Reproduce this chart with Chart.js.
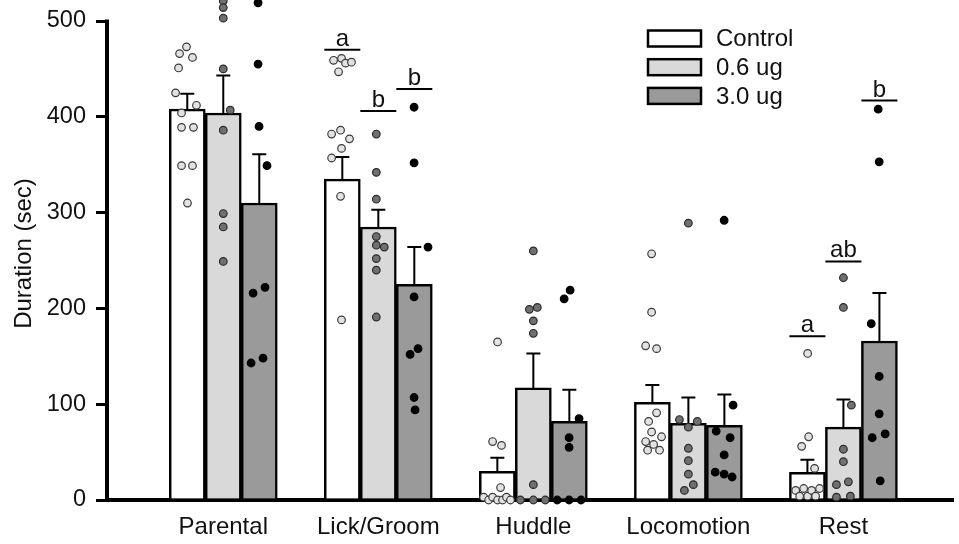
<!DOCTYPE html>
<html>
<head>
<meta charset="utf-8">
<script src="https://cdn.jsdelivr.net/npm/chart.js@4"></script>
<style>
  body { margin: 0; background: #fff; }
  #wrap { width: 959px; height: 544px; }
</style>
</head>
<body>
<div id="wrap"><canvas id="chart"></canvas></div>
<script>
const categories = ["Parental", "Lick/Groom", "Huddle", "Locomotion", "Rest"];
const seriesNames = ["Control", "0.6 ug", "3.0 ug"];

// bar means and SEM (sec)
const ctrlMean = [408, 335, 30, 102, 29];
const lowMean = [404, 285, 117, 80, 76];
const highMean = [310, 225, 82, 78, 166];
const ctrlSem = [16, 23, 14, 18, 13];
const lowSem = [39, 18, 36, 27, 29];
const highSem = [51, 39, 33, 32, 50];

// individual animals, one list per category; jitter lists give the sideways spread
const ctrlPts = [
  [473, 466, 462, 451, 425, 412, 404, 389, 389, 349, 349, 310],
  [459, 461, 456, 457, 447, 382, 386, 377, 367, 357, 317, 188],
  [165, 61, 57, 13, 3, 0, 3, 0, 0, 3, 0],
  [257, 196, 161, 158, 91, 82, 71, 61, 66, 58, 52, 52],
  [153, 66, 56, 33, 10, 4, 12, 4, 10, 4, 12]
];
const ctrlJit = [
  [-1, -8, 5, -9, -12, 9, -6, -6, 6, -6, 5, 0],
  [-9, -1, 3, 9, -4, -11, -2, 7, -1, -11, -2, -1],
  [0, -5, 4, 3, -14, -9, -5, 0, 5, 9, 13],
  [-1, -1, -7, 4, 4, -4, -1, -7, 9, 1, -5, 7],
  [0, 1, -6, 7, -12, -8, -4, 0, 4, 8, 12]
];
const lowPts = [
  [521, 514, 503, 450, 407, 386, 299, 285, 249],
  [382, 342, 314, 275, 266, 264, 252, 240, 191],
  [260, 199, 201, 187, 174, 16, 0, 0, 0],
  [289, 84, 82, 76, 54, 41, 27, 16, 10],
  [232, 201, 99, 53, 40, 16, 19, 3, 4]
];
const lowJit = [
  [0, 0, 0, 0, 7, 0, 0, 0, 0],
  [-2, -2, -2, -2, -2, 6, -2, -2, -2],
  [0, -4, 4, 0, 0, 0, -13, 0, 12],
  [0, -9, 9, 0, 0, 0, 0, 5, -4],
  [0, 0, 8, 0, 0, -7, 5, -7, 7]
];
const highPts = [
  [519, 455, 390, 349, 216, 222, 143, 148],
  [410, 352, 264, 212, 152, 158, 107, 94],
  [219, 210, 85, 65, 55, 0, 0, 0],
  [292, 99, 72, 65, 47, 29, 27, 24],
  [408, 353, 184, 129, 90, 65, 69, 20]
];
const highJit = [
  [-1, -1, 0, 8, -6, 6, -8, 4],
  [0, 0, 14, 0, -4, 4, 0, 1],
  [1, -5, 10, 0, 0, -12, 0, 12],
  [0, 9, -8, 6, 0, -9, 0, 8],
  [-1, 0, -8, 0, 0, -7, 6, 1]
];

// significance letters: category, series, height of the line, letter
const sigCat = [1, 1, 1, 4, 4, 4];
const sigSeries = [0, 1, 2, 0, 1, 2];
const sigLevel = [470, 406, 429, 171, 249, 417];
const sigText = ["a", "b", "b", "a", "ab", "b"];

const yTicks = [0, 100, 200, 300, 400, 500];
const yAxisTop = 500;

const barFill = ["#ffffff", "#d9d9d9", "#9a9a9a"];
const dotFill = ["#e2e2e2", "#707070", "#000000"];
const dotEdge = ["#3a3a3a", "#2a2a2a", "#000000"];

const STEP = 1 / 156;          // one jitter unit in category widths
const BAR = 36;                // bar thickness, px
const SHIFT = BAR * STEP;      // series offset in category widths
const FONT = "'Liberation Sans', Arial, sans-serif";

Chart.defaults.font.family = FONT;
Chart.defaults.color = "#111";

const means = [ctrlMean, lowMean, highMean];
const sems = [ctrlSem, lowSem, highSem];
const pts = [ctrlPts, lowPts, highPts];
const jits = [ctrlJit, lowJit, highJit];

const datasets = [];
seriesNames.forEach((name, s) => {
  datasets.push({
    type: "bar",
    label: name,
    data: means[s].map((v, i) => ({ x: i, y: v })),
    sem: sems[s],
    backgroundColor: barFill[s],
    borderColor: "#000",
    borderWidth: 2.5,
    barThickness: BAR,
    order: 2
  });
});
seriesNames.forEach((name, s) => {
  const data = [];
  pts[s].forEach((list, i) => {
    list.forEach((v, k) => {
      data.push({ x: i + (s - 1) * SHIFT + jits[s][i][k] * STEP, y: v });
    });
  });
  datasets.push({
    type: "scatter",
    label: name + " dots",
    data,
    pointRadius: 3.8,
    pointBorderWidth: 1.2,
    pointBackgroundColor: dotFill[s],
    pointBorderColor: dotEdge[s],
    clip: false,
    order: 1
  });
});

// y axis line stops at 500 while the plot keeps room above for the high dots
const yAxisLine = {
  id: "yAxisLine",
  beforeDatasetsDraw(chart) {
    const y = chart.scales.y;
    const x = chart.chartArea.left;
    const ctx = chart.ctx;
    ctx.save();
    ctx.strokeStyle = "#000";
    ctx.lineWidth = 4;
    ctx.beginPath();
    ctx.moveTo(x, y.getPixelForValue(0) + 2);
    ctx.lineTo(x, y.getPixelForValue(yAxisTop) - 1.5);
    ctx.stroke();
    ctx.restore();
  }
};

const errorBars = {
  id: "errorBars",
  afterDatasetDraw(chart, args) {
    const ds = chart.data.datasets[args.index];
    if (!ds.sem) return;
    const y = chart.scales.y;
    const ctx = chart.ctx;
    ctx.save();
    ctx.strokeStyle = "#000";
    ctx.lineWidth = 2;
    args.meta.data.forEach((bar, i) => {
      const top = y.getPixelForValue(ds.data[i].y + ds.sem[i]);
      ctx.beginPath();
      ctx.moveTo(bar.x, bar.y);
      ctx.lineTo(bar.x, top);
      ctx.moveTo(bar.x - 7, top);
      ctx.lineTo(bar.x + 7, top);
      ctx.stroke();
    });
    ctx.restore();
  }
};

const sigMarks = {
  id: "sigMarks",
  afterDatasetsDraw(chart) {
    const ctx = chart.ctx;
    const y = chart.scales.y;
    ctx.save();
    ctx.strokeStyle = "#000";
    ctx.fillStyle = "#111";
    ctx.lineWidth = 2;
    ctx.font = "24px " + FONT;
    ctx.textAlign = "center";
    ctx.textBaseline = "alphabetic";
    sigCat.forEach((c, k) => {
      const bar = chart.getDatasetMeta(sigSeries[k]).data[c];
      const py = y.getPixelForValue(sigLevel[k]);
      const half = bar.width / 2;
      ctx.beginPath();
      ctx.moveTo(bar.x - half, py);
      ctx.lineTo(bar.x + half, py);
      ctx.stroke();
      ctx.fillText(sigText[k], bar.x, py - 4);
    });
    ctx.restore();
  }
};

const boxLegend = {
  id: "boxLegend",
  afterDraw(chart) {
    const ctx = chart.ctx;
    const a = chart.chartArea;
    const y = chart.scales.y;
    const left = a.left + 541;
    const top = y.getPixelForValue(yAxisTop) + 9.5;
    ctx.save();
    ctx.font = "24px " + FONT;
    ctx.textBaseline = "middle";
    ctx.textAlign = "left";
    seriesNames.forEach((name, s) => {
      const by = top + s * 28.7;
      ctx.fillStyle = barFill[s];
      ctx.fillRect(left, by, 53, 16);
      ctx.strokeStyle = "#000";
      ctx.lineWidth = 2.5;
      ctx.strokeRect(left, by, 53, 16);
      ctx.fillStyle = "#111";
      ctx.fillText(name, left + 68, by + 9);
    });
    // y axis title
    ctx.translate(31, (y.getPixelForValue(0) + y.getPixelForValue(yAxisTop)) / 2 - 7);
    ctx.rotate(-Math.PI / 2);
    ctx.textAlign = "center";
    ctx.textBaseline = "alphabetic";
    ctx.font = "24px " + FONT;
    ctx.fillText("Duration (sec)", 0, 0);
    ctx.restore();
  }
};

new Chart(document.getElementById("chart"), {
  type: "bar",
  data: { datasets },
  options: {
    responsive: true,
    maintainAspectRatio: false,
    animation: false,
    layout: { padding: 0 },
    plugins: { legend: { display: false }, tooltip: { enabled: false } },
    scales: {
      x: {
        type: "linear",
        offset: false,
        min: -0.75,
        max: 4.712,
        grid: { display: false },
        border: { display: true, width: 4, color: "#000" },
        afterBuildTicks: scale => { scale.ticks = categories.map((c, i) => ({ value: i })); },
        afterFit: scale => { scale.height = 44; },
        ticks: {
          autoSkip: false,
          maxRotation: 0,
          padding: 5,
          font: { size: 24 },
          callback: v => categories[v]
        }
      },
      y: {
        min: 0,
        max: 516.5,
        afterBuildTicks: scale => { scale.ticks = yTicks.map(v => ({ value: v })); },
        afterFit: scale => { scale.width = 107; scale.paddingTop = 0; },
        grid: { drawOnChartArea: false, tickLength: 11, lineWidth: 3, color: "#000" },
        border: { display: false },
        ticks: { padding: 10, font: { size: 23.5 } }
      }
    }
  },
  plugins: [yAxisLine, errorBars, sigMarks, boxLegend]
});
</script>
</body>
</html>
